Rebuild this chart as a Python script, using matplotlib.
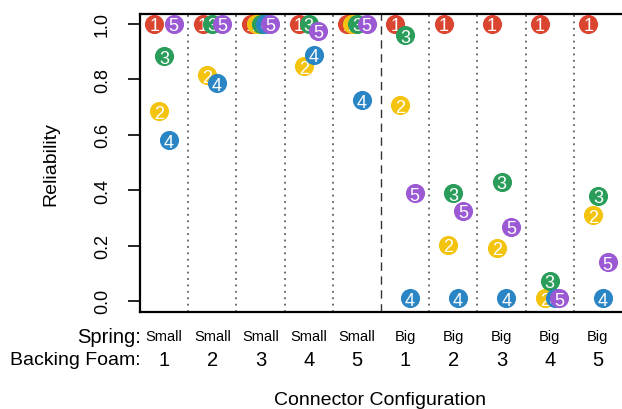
import matplotlib
matplotlib.use("Agg")
import matplotlib.pyplot as plt
import matplotlib.transforms as mtransforms
import numpy as np

plt.rcParams['font.family'] = ['Liberation Sans', 'DejaVu Sans']

# data
spring = ["Small", "Small", "Small", "Small", "Small", "Big", "Big", "Big", "Big", "Big"]
foam = ["1", "2", "3", "4", "5", "1", "2", "3", "4", "5"]
rel_1 = [1.0, 1.0, 1.0, 1.0, 1.0, 1.0, 1.0, 1.0, 1.0, 1.0]
rel_2 = [0.685, 0.815, 1.0, 0.848, 1.0, 0.707, 0.203, 0.192, 0.01, 0.31]
rel_3 = [0.884, 1.0, 1.0, 1.0, 1.0, 0.96, 0.388, 0.43, 0.072, 0.38]
rel_4 = [0.58, 0.786, 1.0, 0.888, 0.725, 0.01, 0.01, 0.01, 0.01, 0.01]
rel_5 = [1.0, 1.0, 1.0, 0.975, 1.0, 0.388, 0.326, 0.268, 0.01, 0.14]
series = [rel_1, rel_2, rel_3, rel_4, rel_5]
labels = ["1", "2", "3", "4", "5"]
colors = ["#DB4530", "#F3C30E", "#2A9D5A", "#2A85C4", "#9B5AD3"]
offsets = [-0.2, -0.1, 0.0, 0.1, 0.2]

fig = plt.figure(figsize=(6.22, 4.10), dpi=100)
ax = fig.add_axes([140 / 622, 97 / 410, 482 / 622, 298 / 410])

x = np.arange(1, len(foam) + 1)
for k, vals in enumerate(series):
    xs = x + offsets[k]
    ax.scatter(xs, vals, s=190, color=colors[k], linewidths=0, zorder=3 + 2 * k)
    for xi, yi in zip(xs, vals):
        ax.text(xi, yi, labels[k], color="white", fontsize=13, ha="center",
                va="center_baseline", zorder=4 + 2 * k)

# group separators
for b in np.arange(1.5, len(foam), 1.0):
    if b == 5.5:
        ax.axvline(b, color="#333333", lw=1, ls=(0, (6, 4)), zorder=1)
    else:
        ax.axvline(b, color="#444444", lw=1.1, ls=(0, (1.2, 3)), zorder=1)

ax.set_xlim(0.5, 10.5)
ax.set_ylim(-0.04, 1.036)
ax.set_xticks([])
ax.set_yticks([0.0, 0.2, 0.4, 0.6, 0.8, 1.0])
ax.set_yticklabels(["0.0", "0.2", "0.4", "0.6", "0.8", "1.0"], rotation=90,
                   va="center", fontsize=13)
ax.tick_params(axis="y", length=9, width=1.2, pad=12)
ax.spines["right"].set_visible(False)
for s in ["left", "top", "bottom"]:
    ax.spines[s].set_linewidth(1.6)
ax.set_ylabel("Reliability", fontsize=14, labelpad=25)

trans = mtransforms.blended_transform_factory(ax.transData, fig.transFigure)
for i in range(len(foam)):
    ax.text(x[i], 0.178, spring[i], transform=trans, ha="center", va="center", fontsize=10.5)
    ax.text(x[i], 0.12, foam[i], transform=trans, ha="center", va="center", fontsize=14.5)
fig.text(141 / 622, 0.178, "Spring:", ha="right", va="center", fontsize=14.5)
fig.text(141 / 622, 0.12, "Backing Foam:", ha="right", va="center", fontsize=14)
fig.text(380 / 622, 0.024, "Connector Configuration", ha="center", va="center", fontsize=14)

fig.savefig("out.png", dpi=100)
